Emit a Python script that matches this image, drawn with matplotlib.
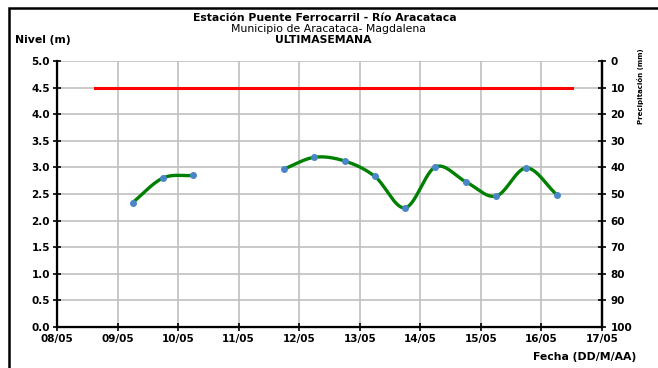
import numpy as np
import matplotlib.pyplot as plt
import matplotlib.dates as mdates
from matplotlib.patches import Rectangle
from datetime import datetime

plt.rcParams["font.family"] = ["DejaVu Sans"]

# datos (dos tramos separados por un hueco)
fechas_1 = ["2000-05-09 06:00", "2000-05-09 18:00", "2000-05-10 06:00"]
nivel_1 = [2.34, 2.80, 2.85]
fechas_2 = ["2000-05-11 18:00", "2000-05-12 06:00", "2000-05-12 18:00",
            "2000-05-13 06:00", "2000-05-13 18:00", "2000-05-14 06:00",
            "2000-05-14 18:00", "2000-05-15 06:00", "2000-05-15 18:00",
            "2000-05-16 06:00"]
nivel_2 = [2.97, 3.19, 3.12, 2.83, 2.24, 3.01, 2.73, 2.46, 2.99, 2.49]

alerta_fechas = ["2000-05-08 15:00", "2000-05-16 12:00"]
alerta_nivel = [4.5, 4.5]

x_min, x_max = "2000-05-08", "2000-05-17"


def to_num(fs):
    return mdates.date2num([datetime.fromisoformat(f) for f in fs])


def suavizar(x, y, n=30):
    # curva tipo Excel (Catmull-Rom) entre los puntos
    x = np.asarray(x, float)
    y = np.asarray(y, float)
    px = np.concatenate([[2 * x[0] - x[1]], x, [2 * x[-1] - x[-2]]])
    py = np.concatenate([[2 * y[0] - y[1]], y, [2 * y[-1] - y[-2]]])
    xs, ys = [], []
    t = np.linspace(0, 1, n)
    for i in range(1, len(px) - 2):
        for p, out in ((px, xs), (py, ys)):
            p0, p1, p2, p3 = p[i - 1], p[i], p[i + 1], p[i + 2]
            out.extend(0.5 * (2 * p1 + (-p0 + p2) * t
                              + (2 * p0 - 5 * p1 + 4 * p2 - p3) * t ** 2
                              + (-p0 + 3 * p1 - 3 * p2 + p3) * t ** 3))
    return xs, ys


fig = plt.figure(figsize=(6.58, 3.68), dpi=100)
ax = fig.add_axes([57 / 658, 1 - 327 / 368, 545 / 658, 266 / 368])

for fs, nv in ((fechas_1, nivel_1), (fechas_2, nivel_2)):
    xn = to_num(fs)
    sx, sy = suavizar(xn, nv)
    ax.plot(sx, sy, color="#008000", lw=2.4, zorder=3, solid_capstyle="round")
    ax.plot(xn, nv, "o", color="#4a86c8", ms=4, zorder=4, mec="#4a86c8")

ax.plot(to_num(alerta_fechas), alerta_nivel, color="#ff0000", lw=2.2, zorder=3)

ax.set_xlim(to_num([x_min, x_max]))
ax.set_ylim(0, 5)
ax.set_yticks(np.arange(0, 5.01, 0.5))
ax.yaxis.set_major_formatter(plt.FormatStrFormatter("%.1f"))
ax.xaxis.set_major_locator(mdates.DayLocator())
ax.xaxis.set_major_formatter(mdates.DateFormatter("%d/%m"))
ax.grid(True, color="#c0c0c0", lw=1.2)
ax.set_axisbelow(True)

for s in ("left", "bottom", "right"):
    ax.spines[s].set_linewidth(1.6)
ax.spines["top"].set_visible(False)
ax.tick_params(axis="both", direction="inout", length=6, width=1.2,
               labelsize=7.5, pad=2)
for lab in ax.get_xticklabels() + ax.get_yticklabels():
    lab.set_fontweight("bold")

ax2 = ax.twinx()
ax2.set_ylim(100, 0)
ax2.set_yticks(np.arange(0, 101, 10))
ax2.spines["right"].set_linewidth(1.6)
ax2.spines["top"].set_visible(False)
ax2.tick_params(axis="y", direction="inout", length=6, width=1.2,
                labelsize=7.5, pad=3)
for lab in ax2.get_yticklabels():
    lab.set_fontweight("bold")

fs_t = 7.8
fig.text(325 / 658, 1 - 18 / 368, "Estación Puente Ferrocarril - Río Aracataca",
         ha="center", va="center", fontsize=fs_t, fontweight="bold")
fig.text(328 / 658, 1 - 29 / 368, "Municipio de Aracataca- Magdalena",
         ha="center", va="center", fontsize=fs_t)
fig.text(323 / 658, 1 - 40 / 368, "ULTIMASEMANA",
         ha="center", va="center", fontsize=fs_t, fontweight="bold")
fig.text(15 / 658, 1 - 40 / 368, "Nivel (m)", ha="left", va="center",
         fontsize=fs_t, fontweight="bold")
fig.text(636 / 658, 1 - 357 / 368, "Fecha (DD/M/AA)", ha="right", va="center",
         fontsize=fs_t, fontweight="bold")
fig.text(641 / 658, 1 - 48 / 368, "Precipitación (mm)", ha="center", va="top",
         rotation=90, fontsize=5, fontweight="bold")

fig.patches.append(Rectangle((9 / 658, -0.1), 1.2, 1 - 8 / 368 + 0.1,
                             transform=fig.transFigure, fill=False,
                             edgecolor="black", lw=1.8))

fig.savefig("out.png", dpi=100)
